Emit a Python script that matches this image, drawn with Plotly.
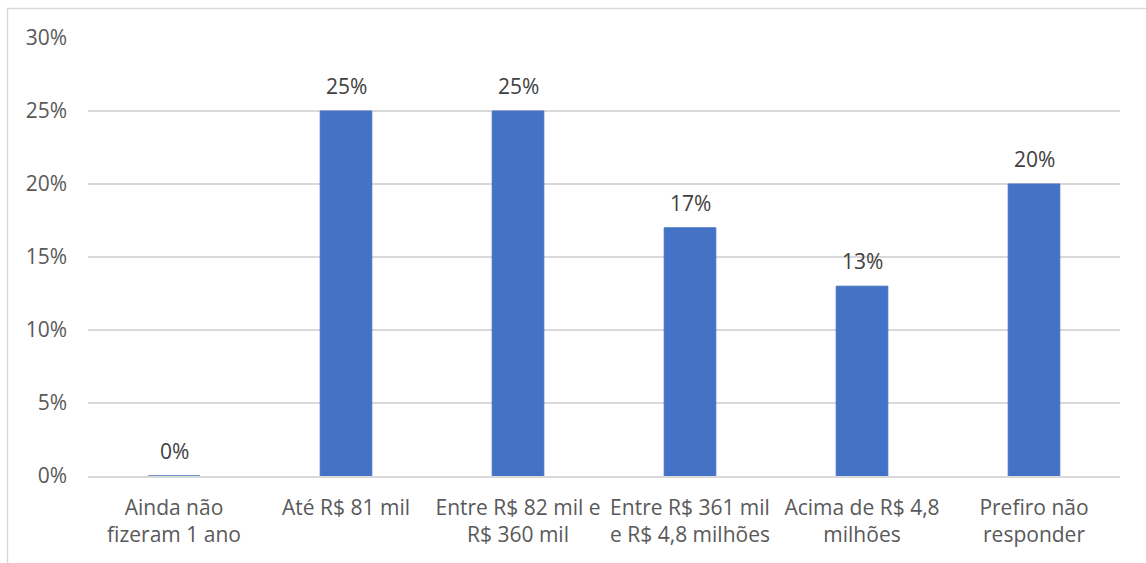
import plotly.graph_objects as go

# Faixas de faturamento e percentual de respostas
categorias = [
    "Ainda não<br>fizeram 1 ano",
    "Até R$ 81 mil",
    "Entre R$ 82 mil e<br>R$ 360 mil",
    "Entre R$ 361 mil<br>e R$ 4,8 milhões",
    "Acima de R$ 4,8<br>milhões",
    "Prefiro não<br>responder",
]
percentuais = [0, 25, 25, 17, 13, 20]
rotulos = [f"{v}%" for v in percentuais]

y_ticks = [0, 5, 10, 15, 20, 25, 30]
y_tick_labels = [f"{t}%" for t in y_ticks]

AZUL = "#4472C4"
CINZA_TEXTO = "#595959"
CINZA_ROTULO = "#404040"
CINZA_GRADE = "#D9D9D9"
FONTE = "Open Sans, Liberation Sans, sans-serif"
TAM = 21

fig = go.Figure()
fig.add_trace(
    go.Bar(
        x=categorias,
        y=percentuais,
        marker=dict(color=AZUL, line=dict(color=AZUL, width=1)),
        width=0.3,
        hoverinfo="skip",
    )
)

# Rótulos de valor acima de cada coluna
for cat, val, txt in zip(categorias, percentuais, rotulos):
    fig.add_annotation(
        x=cat, y=val, text=txt, showarrow=False,
        yanchor="bottom", yshift=9,
        font=dict(family=FONTE, size=TAM, color=CINZA_ROTULO),
    )

# Borda da área do gráfico
fig.add_shape(
    type="rect", xref="paper", yref="paper",
    x0=(7.5 - 88) / 1032, x1=1.2, y0=-0.5, y1=1 + (38 - 8.5) / 438,
    line=dict(color=CINZA_GRADE, width=1.5), fillcolor="rgba(0,0,0,0)",
    layer="below",
)

fig.update_layout(
    width=1146, height=563,
    margin=dict(l=88, r=26, t=38, b=87),
    paper_bgcolor="white", plot_bgcolor="white",
    showlegend=False,
    font=dict(family=FONTE, size=TAM, color=CINZA_TEXTO),
    xaxis=dict(
        showgrid=False, showline=True, linecolor=CINZA_GRADE, linewidth=1.5,
        ticks="", ticklabelstandoff=12,
        tickfont=dict(family=FONTE, size=TAM, color=CINZA_TEXTO),
    ),
    yaxis=dict(
        range=[0, 30], tickvals=y_ticks, ticktext=y_tick_labels,
        showgrid=True, gridcolor=CINZA_GRADE, gridwidth=1.5,
        zeroline=False, showline=False, ticks="", ticklabelstandoff=20,
        tickfont=dict(family=FONTE, size=TAM, color=CINZA_TEXTO),
    ),
)

fig.write_html("out.html")
